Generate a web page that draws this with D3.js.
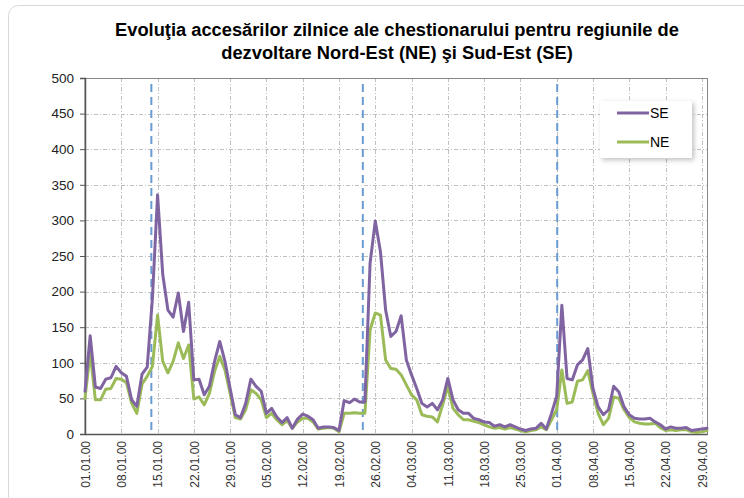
<!DOCTYPE html>
<html>
<head>
<meta charset="utf-8">
<script src="https://cdn.jsdelivr.net/npm/d3@7/dist/d3.min.js"></script>
<style>
  html, body { margin: 0; padding: 0; background: #fff; }
  svg { display: block; }
  text { font-family: "Liberation Sans", Arial, sans-serif; }
</style>
</head>
<body>
<svg id="chart" width="744" height="498"></svg>
<script>
// ---- data ----
const startDate = "2000-01-01";
const dayCount = 121; // 01.01.00 .. 30.04.00
const seriesNames = ["SE", "NE"];
const seValues = [60,138,66,64,77,79,95,86,81,48,39,84,94,190,336,224,174,164,198,144,
  185,76,77,55,67,102,130,102,64,27,23,43,77,67,60,29,36,24,16,23,
  8,21,28,25,20,8,10,10,9,5,47,44,49,45,45,240,299,256,174,137,
  144,166,104,83,64,43,38,43,34,48,78,48,34,29,29,22,20,17,16,11,
  13,10,13,10,7,5,7,8,15,7,29,53,181,78,76,97,104,120,64,38,
  27,34,67,59,38,27,22,21,21,22,17,13,7,10,8,8,9,5,6,7,8];
const neValues = [50,115,48,48,63,64,78,77,72,43,29,70,81,95,167,102,86,102,128,106,
  125,49,52,41,57,88,109,90,57,23,21,34,62,57,48,23,29,20,13,19,
  8,17,22,22,17,7,8,9,8,3,29,29,30,29,29,146,170,167,104,92,
  91,83,69,55,48,27,25,24,17,41,67,36,27,20,20,18,16,13,10,8,
  9,7,9,7,5,3,5,6,10,6,20,34,90,43,45,74,76,89,57,29,
  13,22,52,50,34,23,17,15,14,14,15,9,5,6,5,6,6,3,2,3,5];
const tickLabels = ["01.01.00","08.01.00","15.01.00","22.01.00","29.01.00","05.02.00",
  "12.02.00","19.02.00","26.02.00","04.03.00","11.03.00","18.03.00","25.03.00",
  "01.04.00","08.04.00","15.04.00","22.04.00","29.04.00"];
const markerDays = [12.8, 53.6, 91.1]; // dashed reference lines (day index)
const yTicks = [0,50,100,150,200,250,300,350,400,450,500];
const titleLines = ["Evoluţia accesărilor zilnice ale chestionarului pentru regiunile de",
  "dezvoltare Nord-Est (NE) şi Sud-Est (SE)"];
const colors = { SE: "#8064A2", NE: "#9BBB59" };

// ---- build ----
const fmt = d3.timeFormat("%d.%m.%y");
const start = new Date(startDate + "T00:00:00");
const dates = d3.range(dayCount).map(i => d3.timeDay.offset(start, i));
const categories = dates.map(fmt);

const svg = d3.select("#chart");
const L = 85, R = 707, T = 78, B = 434;

const x = d3.scaleLinear().domain([0, dayCount - 1]).range([L, R]);
const xCat = d3.scalePoint().domain(categories).range([L, R]);
const y = d3.scaleLinear().domain([0, 500]).range([B, T]);

// chart area frame
svg.append("rect").attr("x", 8.5).attr("y", 5.5).attr("width", 780).attr("height", 520)
  .attr("rx", 10).attr("fill", "#fff").attr("stroke", "#d9d9d9").attr("stroke-width", 1);

// title
const title = svg.append("text").attr("text-anchor", "middle")
  .attr("font-size", 18.3).attr("font-weight", "bold").attr("fill", "#000");
titleLines.forEach((t, i) => title.append("tspan").attr("x", 397).attr("y", 36 + i * 23).text(t));

// gridlines
const g = svg.append("g");
g.selectAll("line.hg").data(yTicks.filter(v => v > 0 && v < 500)).join("line")
  .attr("x1", L).attr("x2", R).attr("y1", d => Math.round(y(d)) + 0.5).attr("y2", d => Math.round(y(d)) + 0.5)
  .attr("stroke", "#c0c0c0").attr("stroke-width", 1).attr("stroke-dasharray", "4,2,1,2");
g.selectAll("line.vg").data(tickLabels.slice(1)).join("line")
  .attr("x1", d => Math.round(xCat(d)) + 0.5).attr("x2", d => Math.round(xCat(d)) + 0.5)
  .attr("y1", T).attr("y2", B)
  .attr("stroke", "#c0c0c0").attr("stroke-width", 1).attr("stroke-dasharray", "4,2,1,2");

// plot border
svg.append("rect").attr("x", L).attr("y", T + 0.5).attr("width", R - L + 0.5).attr("height", B - T)
  .attr("fill", "none").attr("stroke", "#868686").attr("stroke-width", 1);

// y axis
const yAxis = d3.axisLeft(y).tickValues(yTicks).tickSize(5).tickPadding(6);
const ya = svg.append("g").attr("transform", `translate(${L},0)`).call(yAxis);
ya.select(".domain").attr("stroke", "#555").attr("stroke-width", 1.5);
ya.selectAll(".tick line").attr("stroke", "#555");
ya.selectAll(".tick text").attr("font-size", 13.5).attr("fill", "#222")
  .attr("font-family", "Liberation Sans, Arial, sans-serif");

// x axis
const xAxis = d3.axisBottom(xCat).tickValues(tickLabels).tickSize(0).tickPadding(0);
const xa = svg.append("g").attr("transform", `translate(0,${B})`).call(xAxis);
xa.select(".domain").attr("stroke", "#555").attr("stroke-width", 1.5);
xa.selectAll(".tick text").attr("font-size", 12).attr("fill", "#333")
  .attr("font-family", "Liberation Sans, Arial, sans-serif")
  .attr("text-anchor", "end").attr("transform", "rotate(-90)")
  .attr("x", -7).attr("y", 0).attr("dy", "0.35em");

// dashed marker lines
svg.selectAll("line.mk").data(markerDays).join("line")
  .attr("x1", d => x(d)).attr("x2", d => x(d)).attr("y1", T + 6).attr("y2", B)
  .attr("stroke", "#6a9bd3").attr("stroke-width", 2).attr("stroke-dasharray", "8,5");

// series lines
const line = d3.line().x((d, i) => x(i)).y(d => y(d)).curve(d3.curveLinear);
const seriesData = { SE: seValues, NE: neValues };
["NE", "SE"].forEach(name => {
  svg.append("path").datum(seriesData[name]).attr("d", line)
    .attr("fill", "none").attr("stroke", colors[name]).attr("stroke-width", 3)
    .attr("stroke-linejoin", "round").attr("stroke-linecap", "round");
});

// legend
const defs = svg.append("defs");
const f = defs.append("filter").attr("id", "sh").attr("x", "-20%").attr("y", "-20%").attr("width", "150%").attr("height", "150%");
f.append("feDropShadow").attr("dx", 2).attr("dy", 2).attr("stdDeviation", 2.5).attr("flood-color", "#000").attr("flood-opacity", 0.25);
const lg = svg.append("g").attr("transform", "translate(600,101)");
lg.append("rect").attr("width", 92).attr("height", 57).attr("fill", "#fff").attr("filter", "url(#sh)");
seriesNames.forEach((name, i) => {
  const yy = 12 + i * 29;
  lg.append("line").attr("x1", 17).attr("x2", 49).attr("y1", yy).attr("y2", yy)
    .attr("stroke", colors[name]).attr("stroke-width", 3);
  lg.append("text").attr("x", 50).attr("y", yy).attr("dy", "0.36em")
    .attr("font-size", 14).attr("fill", "#000").text(name);
});
</script>
</body>
</html>
